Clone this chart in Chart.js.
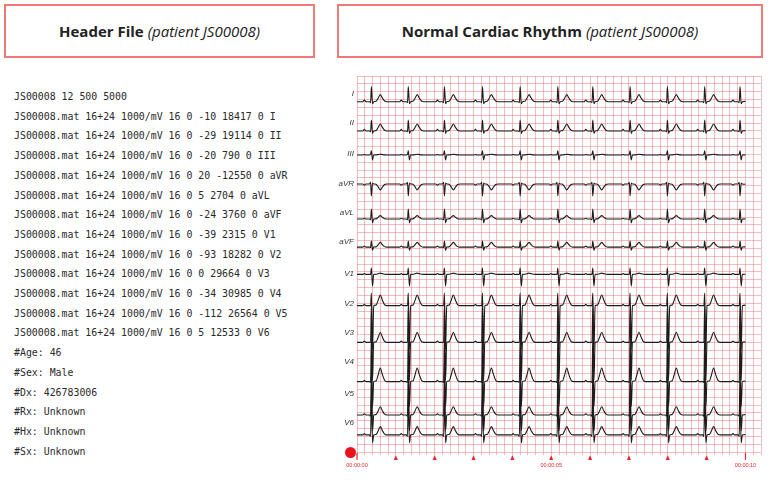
<!DOCTYPE html>
<html>
<head>
<meta charset="utf-8">
<script src="https://cdn.jsdelivr.net/npm/chart.js@4.4.1/dist/chart.umd.min.js"></script>
<style>
  html, body { margin: 0; padding: 0; background: #fff; }
  #page { position: relative; width: 768px; height: 480px; overflow: hidden; background: #fff; }
  .box { position: absolute; box-sizing: border-box; border: 2px solid #f27878; display: flex; align-items: center; justify-content: center; font-family: 'Open Sans', sans-serif; font-size: 15px; color: #222; white-space: nowrap; }
  .box b { font-weight: 700; }
  .box i { font-weight: 400; margin-left: 4px; }
  #hdr { position: absolute; left: 14px; top: 87px; font-family: 'DejaVu Sans Mono', monospace; font-size: 9.9px; line-height: 19.7px; color: #2a2a2a; white-space: pre; }
  #chartWrap { position: absolute; left: 300px; top: 60px; width: 468px; height: 420px; }
  #dot { position: absolute; left: 345px; top: 447px; width: 11px; height: 11px; border-radius: 50%; background: #e8141b; }
</style>
</head>
<body>
<div id="page">
  <div class="box" style="left:4px;top:4px;width:311px;height:54px;"><b>Header File</b><i>(patient JS00008)</i></div>
  <div class="box" style="left:337px;top:4px;width:426px;height:54px;"><b>Normal Cardiac Rhythm</b><i>(patient JS00008)</i></div>
  <div id="hdr"></div>
  <div id="chartWrap"><canvas id="c" width="468" height="420"></canvas></div>
  <div id="dot"></div>
</div>
<script>
// ---- header file text ----
const headerLines = [
  'JS00008 12 500 5000',
  'JS00008.mat 16+24 1000/mV 16 0 -10 18417 0 I',
  'JS00008.mat 16+24 1000/mV 16 0 -29 19114 0 II',
  'JS00008.mat 16+24 1000/mV 16 0 -20 790 0 III',
  'JS00008.mat 16+24 1000/mV 16 0 20 -12550 0 aVR',
  'JS00008.mat 16+24 1000/mV 16 0 5 2704 0 aVL',
  'JS00008.mat 16+24 1000/mV 16 0 -24 3760 0 aVF',
  'JS00008.mat 16+24 1000/mV 16 0 -39 2315 0 V1',
  'JS00008.mat 16+24 1000/mV 16 0 -93 18282 0 V2',
  'JS00008.mat 16+24 1000/mV 16 0 0 29664 0 V3',
  'JS00008.mat 16+24 1000/mV 16 0 -34 30985 0 V4',
  'JS00008.mat 16+24 1000/mV 16 0 -112 26564 0 V5',
  'JS00008.mat 16+24 1000/mV 16 0 5 12533 0 V6',
  '#Age: 46',
  '#Sex: Male',
  '#Dx: 426783006',
  '#Rx: Unknown',
  '#Hx: Unknown',
  '#Sx: Unknown'
];

// ---- ECG data ----
const leadNames   = ['I','II','III','aVR','aVL','aVF','V1','V2','V3','V4','V5','V6'];
// R-peak times (s)
const beatTimes   = [0.37, 1.32, 2.25, 3.23, 4.20, 5.17, 6.07, 7.03, 7.99, 8.95, 9.86];
// lead baseline offsets (mV on the stacked axis)
const leadOffsets = [22.36, 20.49, 18.96, 17.11, 14.87, 13.08, 11.34, 9.34, 7.00, 4.49, 2.36, 1.09];
// lead label levels (mV on the stacked axis)
const labelLevels = [22.86, 21.00, 19.02, 17.11, 15.26, 13.40, 11.36, 9.45, 7.60, 5.74, 3.70, 1.85];
// wave amplitudes per lead (mV)
const pAmp = [0.10, 0.10, 0.03, -0.08, 0.05, 0.06, 0.05, 0.08, 0.08, 0.08, 0.08, 0.08];
const qAmp = [-0.06, -0.05, 0.05, 0.10, -0.05, -0.03, 0.00, 0.00, 0.00, -0.05, -0.08, -0.10];
const rAmp = [0.96, 0.70, 0.26, -0.77, 0.64, 0.38, 0.40, 0.80, 2.40, 2.90, 2.90, 2.60];
const sAmp = [-0.13, -0.15, -0.32, 0.05, -0.25, -0.20, -0.75, -2.80, -2.40, -1.60, -1.00, -0.50];
const tAmp = [0.45, 0.45, 0.05, -0.38, 0.22, 0.30, 0.08, 0.68, 0.64, 0.87, 0.53, 0.53];
// beat shape: [time from R peak (s), wave, fraction of that wave's amplitude]
const beatTemplate = [
  [-0.22,'p',0], [-0.18,'p',1], [-0.14,'p',0],
  [-0.05,'q',0], [-0.02,'q',1], [0,'r',1], [0.03,'s',1], [0.06,'s',0],
  [0.12,'t',0.05], [0.17,'t',0.45], [0.23,'t',1], [0.28,'t',0.55], [0.34,'t',0.1], [0.40,'t',0]
];
const recordLength = 10;      // seconds
const timeMarks = [0,1,2,3,4,5,6,7,8,9,10];
const timeLabels = {0:'00:00:00', 5:'00:00:05', 10:'00:00:10'};

document.getElementById('hdr').textContent = headerLines.join('\n');

const ampTable = { p: pAmp, q: qAmp, r: rAmp, s: sAmp, t: tAmp };
const datasets = leadNames.map((name, li) => {
  const base = leadOffsets[li];
  const pts = [{x: 0, y: base}];
  beatTimes.forEach(bt => {
    beatTemplate.forEach(([dt, w, f]) => {
      const x = bt + dt;
      if (x > 0 && x < recordLength) pts.push({x: x, y: base + f * ampTable[w][li]});
    });
  });
  pts.push({x: recordLength, y: base});
  return {
    label: name, data: pts, borderColor: '#1c1c1c', borderWidth: 1.1,
    pointRadius: 0, fill: false, tension: 0.4, cubicInterpolationMode: 'monotone'
  };
});

const gridColor = 'rgba(232,110,110,0.45)';
const red = '#e8262b';

const marksPlugin = {
  id: 'marks',
  afterDraw(chart) {
    const ctx = chart.ctx, xs = chart.scales.x, b = chart.chartArea.bottom;
    ctx.save();
    ctx.fillStyle = red; ctx.strokeStyle = red; ctx.lineWidth = 1.2;
    timeMarks.forEach(s => {
      const px = xs.getPixelForValue(s);
      if (s === 0 || s === recordLength) {
        ctx.beginPath(); ctx.moveTo(px, b + 1); ctx.lineTo(px, b + 8); ctx.stroke();
      } else {
        ctx.beginPath(); ctx.moveTo(px - 2, b + 8); ctx.lineTo(px + 2, b + 8); ctx.lineTo(px, b + 3); ctx.closePath(); ctx.fill();
      }
    });
    ctx.restore();
  }
};

new Chart(document.getElementById('c'), {
  type: 'line',
  data: { datasets },
  plugins: [marksPlugin],
  options: {
    responsive: false, animation: false, parsing: true,
    layout: { padding: { top: 16, right: 5, left: 0, bottom: 0 } },
    plugins: { legend: { display: false }, tooltip: { enabled: false } },
    scales: {
      x: {
        type: 'linear', min: 0, max: 10.4,
        afterFit(s) { s.height = 28; },
        afterBuildTicks(s) { const t = []; for (let i = 0; i <= 52; i++) t.push({value: Math.round(i * 2) / 10}); s.ticks = t; },
        grid: { color: gridColor, lineWidth: 1, drawTicks: true, tickLength: 3, tickColor: gridColor },
        border: { display: false },
        ticks: {
          autoSkip: false, maxRotation: 0, padding: 7, color: red,
          font: { family: 'Liberation Sans', size: 5.5 },
          callback(v) { const r = Math.round(v); return (Math.abs(v - r) < 1e-6 && timeLabels[r]) ? timeLabels[r] : ''; }
        }
      },
      y: {
        type: 'linear', min: 0, max: 24,
        afterFit(s) { s.width = 57; },
        afterBuildTicks(s) {
          const t = [];
          for (let i = 0; i <= 48; i++) t.push({value: i / 2});
          labelLevels.forEach((v, i) => t.push({value: v, lead: leadNames[i]}));
          s.ticks = t;
        },
        grid: { color: ctx => (ctx.tick && ctx.tick.lead) ? 'rgba(0,0,0,0)' : gridColor, lineWidth: 1, drawTicks: false },
        border: { display: false },
        ticks: {
          autoSkip: false, padding: 3, color: '#333',
          font: { family: "'Liberation Sans Narrow', 'Liberation Sans'", size: 8, style: 'italic' },
          callback(v, i, ticks) { return ticks[i].lead || ''; }
        }
      }
    }
  }
});
</script>
</body>
</html>
